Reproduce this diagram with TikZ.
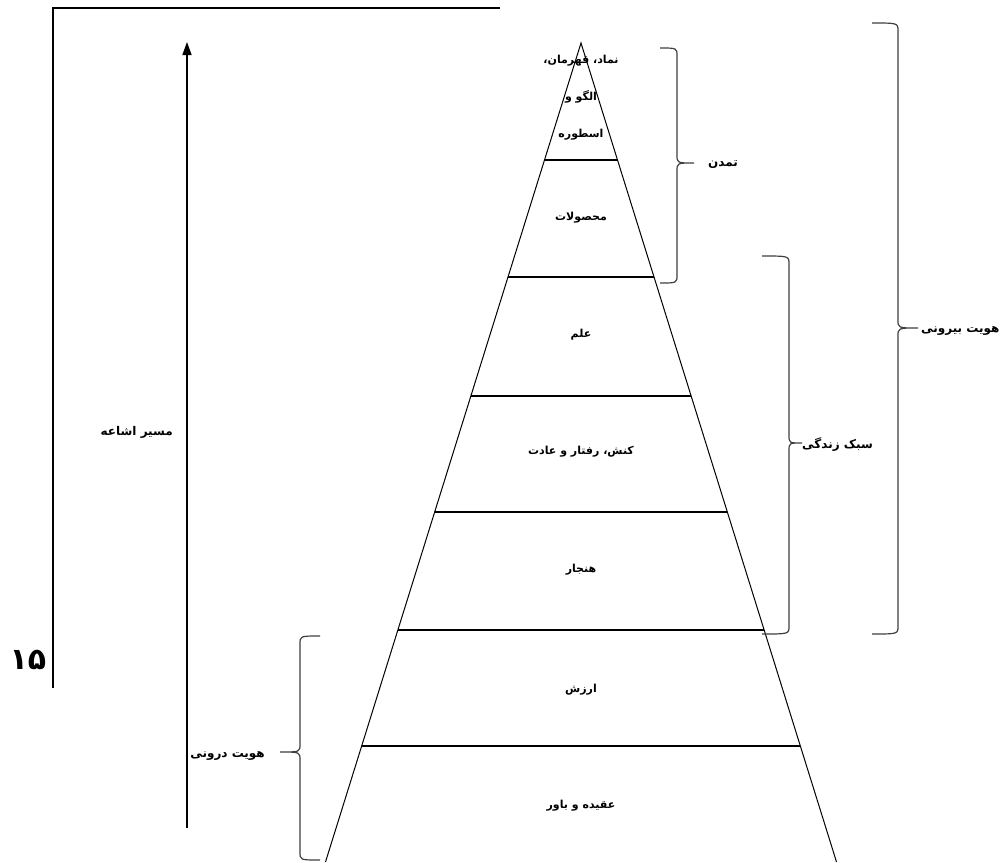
\documentclass[tikz,border=0pt]{standalone}
\usepackage{fontspec}
\newfontfamily\fa[Script=Arabic]{DejaVu Sans}
\TeXXeTstate=1
\usetikzlibrary{arrows.meta}
\newcommand\mybrace[6]{\draw[brc] (#1,#4) .. controls (#2,#4) .. (#2,{#4+8}) -- (#2,{#5-8}) .. controls (#2,#5) .. (#3,#5) .. controls (#2,#5) .. (#2,{#5+8}) -- (#2,{#6-8}) .. controls (#2,#6) .. (#1,#6);}
\begin{document}
\begin{tikzpicture}[x=1pt,y=-1pt,
  lbl/.style={font=\fa\bfseries\fontsize{11}{13}\selectfont, inner sep=0pt},
  side/.style={font=\fa\bfseries\fontsize{12}{14}\selectfont, inner sep=0pt},
  pside/.style={line width=1pt, black},
  plev/.style={line width=1.6pt, black},
  brc/.style={line width=1.2pt, black!75}]
\useasboundingbox (0,0) rectangle (1000,862);
\fill[white] (0,0) rectangle (1000,862);
% frame
\coordinate (f1) at (500,8);
\coordinate (f2) at (53,8);
\coordinate (f3) at (53,688);
\draw[line width=1.5pt] (f1) -- (f2) -- (f3);
\node[font=\fa\bfseries\fontsize{30}{32}\selectfont, inner sep=0pt] (pg) at (28,660) {۱۵};
% arrow
\coordinate (abot) at (187,828);
\coordinate (atop) at (187,42);
\draw[line width=1.5pt, -{Triangle[length=13pt,width=9pt]}] (abot) -- (atop);
\node[side, anchor=east] (masir) at (173,432) {\beginR مسیر اشاعه\endR};
% pyramid
\coordinate (apex) at (581,43);
\foreach \y [count=\i] in {160,277,396,512,630,746,862} {
  \coordinate (L\i) at ({581-0.312*(\y-43)},\y);
  \coordinate (R\i) at ({581+0.312*(\y-43)},\y);
}
\draw[pside] (L7) -- (apex) -- (R7);
\foreach \i in {1,...,6} \draw[plev] (L\i) -- (R\i);
% pyramid labels
\node[lbl, align=center, font=\fa\bfseries\fontsize{11}{37}\selectfont] (t1) at (581,98)
  {\beginR نماد، قهرمان،\endR\\\beginR الگو و\endR\\\beginR اسطوره\endR};
\node[lbl] (t2) at (581,218) {\beginR محصولات\endR};
\node[lbl] (t3) at (581,335) {\beginR علم\endR};
\node[lbl] (t4) at (581,452) {\beginR کنش، رفتار و عادت\endR};
\node[lbl] (t5) at (581,570) {\beginR هنجار\endR};
\node[lbl] (t6) at (581,690) {\beginR ارزش\endR};
\node[lbl] (t7) at (581,806) {\beginR عقیده و باور\endR};
% braces
\mybrace{660}{677}{694}{48}{163}{283}
\node[side, anchor=west] (tamadon) at (708,165) {\beginR تمدن\endR};
\mybrace{762}{789}{802}{256}{443}{634}
\node[side, anchor=west] (sabk) at (802,444) {\beginR سبک زندگی\endR};
\mybrace{872}{898}{918}{23}{328}{634}
\node[side, anchor=west] (birun) at (921,331) {\beginR هویت بیرونی\endR};
\mybrace{320}{300}{280}{636}{752}{860}
\node[side, anchor=east] (darun) at (265,756) {\beginR هویت درونی\endR};
\end{tikzpicture}
\end{document}
